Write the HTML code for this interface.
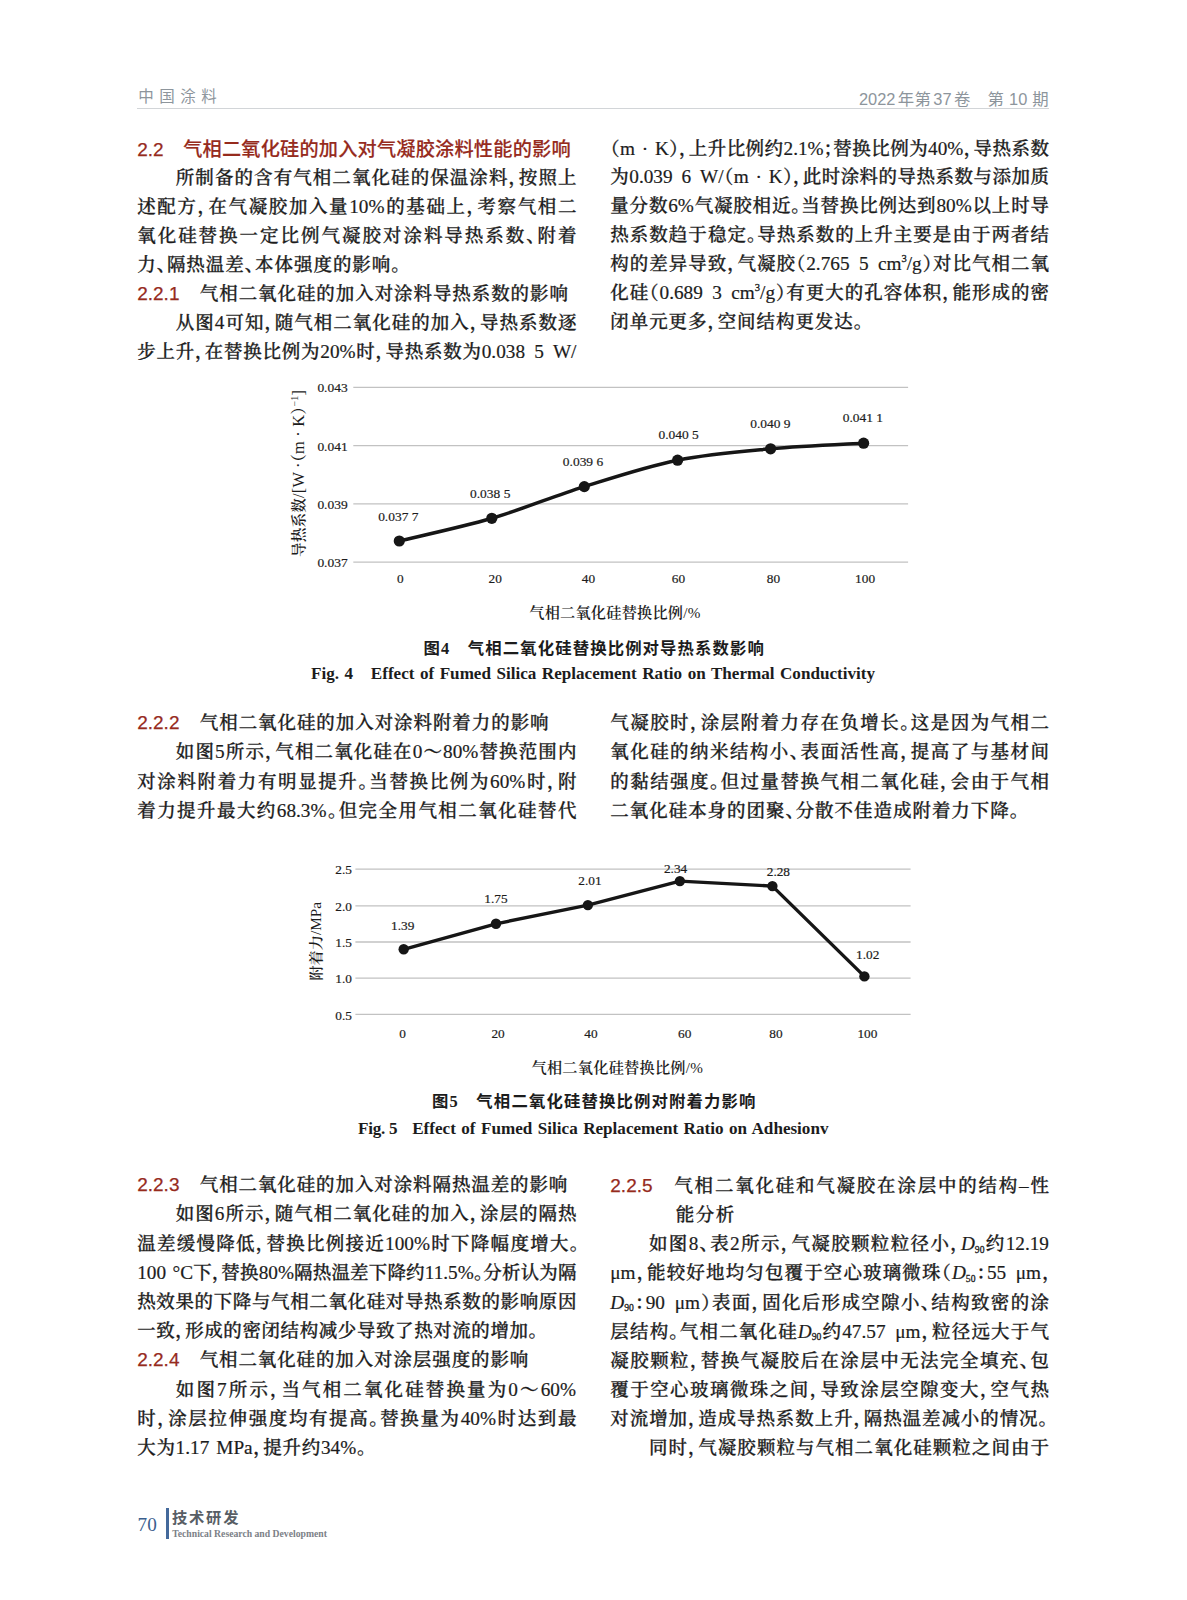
<!DOCTYPE html>
<html lang="zh-CN"><head><meta charset="utf-8"><title>中国涂料 2022年第37卷 第10期</title>
<style>
html,body{margin:0;padding:0;background:#fff;}
body{width:1187px;height:1600px;position:relative;overflow:hidden;
 font-family:"Liberation Serif","Noto Serif CJK SC",serif;color:#1c1c1c;}
.ln{position:absolute;height:30px;line-height:30px;font-size:18.5px;overflow:visible;
 font-feature-settings:"halt" 1;font-weight:500;-webkit-text-stroke:0.3px #1c1c1c;white-space:normal;text-align:justify;text-align-last:justify;}
.l{font-size:19.25px;font-weight:400;-webkit-text-stroke:0.2px #1c1c1c;word-spacing:1.5px;}
.w{word-spacing:3.6px;}
.rn{font-family:"Liberation Sans",sans-serif;color:#962b1d;font-size:19px;font-weight:400;-webkit-text-stroke:0.25px #962b1d;}
.h2{font-family:"Liberation Sans","Noto Sans CJK SC",sans-serif;font-weight:500;color:#962b1d;font-size:19.2px;position:relative;top:1.2px;-webkit-text-stroke:0.15px #962b1d;}
.rn.b{font-weight:400;}
.gap{display:inline-block;width:20px;}
sup{font-size:10.5px;font-weight:400;vertical-align:baseline;position:relative;top:-8.6px;line-height:0;}
sub{font-size:9.6px;font-weight:400;vertical-align:baseline;position:relative;top:2.6px;line-height:0;}
.hd{position:absolute;font-family:"Liberation Sans","Noto Sans CJK SC",sans-serif;color:#8d959c;font-size:16px;line-height:20px;height:20px;white-space:nowrap;}
.hs{display:inline-block;width:2px;}
.rule{position:absolute;left:137px;top:107.7px;width:912px;height:1.3px;background:#d2d5d8;}
svg{position:absolute;left:0;top:0;}
svg text{fill:#1c1c1c;}
.ax{font-family:"Liberation Serif",serif;font-size:13.3px;stroke:#1c1c1c;stroke-width:0.2px;}
.ay{font-family:"Liberation Serif","Noto Serif CJK SC",serif;font-size:14px;font-weight:600;font-feature-settings:"halt" 1;}
.axc{font-family:"Liberation Serif","Noto Serif CJK SC",serif;font-size:15.2px;font-weight:600;}
.capc{position:absolute;height:22px;font-family:"Liberation Serif","Noto Sans CJK SC",sans-serif;font-weight:700;font-size:16.4px;line-height:22px;text-align:justify;text-align-last:justify;}
.cape{position:absolute;height:22px;font-family:"Liberation Serif",serif;font-weight:700;font-size:17.1px;line-height:22px;text-align:justify;text-align-last:justify;}
.pg{position:absolute;left:137.6px;top:1511.6px;font-family:"Liberation Serif",serif;font-size:19.2px;line-height:26px;color:#3b5e8d;}
.bar{position:absolute;left:166.1px;top:1508px;width:2.5px;height:30.6px;background:#44699b;}
.ft1{position:absolute;left:171.9px;top:1506.8px;width:66.6px;font-family:"Liberation Sans","Noto Sans CJK SC",sans-serif;font-weight:700;font-size:15.3px;line-height:22px;color:#585e65;text-align:justify;text-align-last:justify;}
.ft2{position:absolute;left:172.2px;top:1526.6px;font-family:"Liberation Serif",serif;font-weight:700;font-size:9.7px;line-height:14px;color:#7c8187;white-space:nowrap;}
</style></head><body>
<div class="hd" style="left:138.2px;top:87.4px;font-size:15.5px;letter-spacing:5.5px;">中国涂料</div>
<div class="hd" style="left:859px;top:88.6px;width:189.6px;font-size:16.4px;text-align:justify;text-align-last:justify;white-space:normal;">2022<span class="hs"></span>年第<span class="hs"></span>37<span class="hs"></span>卷　第 10 期</div>
<div class="rule"></div>
<div class="ln" style="left:137.2px;top:133.4px;width:433.4px;"><span class="h2"><span class="rn b">2.2</span>　气相二氧化硅的加入对气凝胶涂料性能的影响</span></div>
<div class="ln" style="left:175.8px;top:162.7px;width:400.7px;">所制备的含有气相二氧化硅的保温涂料，按照上</div>
<div class="ln" style="left:137.2px;top:191.7px;width:439.3px;">述配方，在气凝胶加入量<span class="l">10%</span>的基础上，考察气相二</div>
<div class="ln" style="left:137.2px;top:220.8px;width:439.3px;">氧化硅替换一定比例气凝胶对涂料导热系数、附着</div>
<div class="ln" style="left:137.2px;top:249.8px;width:263.4px;">力、隔热温差、本体强度的影响。</div>
<div class="ln" style="left:137.2px;top:278.9px;width:430.8px;"><span class="rn">2.2.1</span>　气相二氧化硅的加入对涂料导热系数的影响</div>
<div class="ln" style="left:175.8px;top:307.9px;width:400.7px;">从图<span class="l">4</span>可知，随气相二氧化硅的加入，导热系数逐</div>
<div class="ln" style="left:137.2px;top:336.9px;width:439.3px;">步上升，在替换比例为<span class="l">20%</span>时，导热系数为<span class="l">0.038<span class="w"> </span>5<span class="w"> </span>W/</span></div>
<div class="ln" style="left:610.3px;top:133.8px;width:438.7px;">（<span class="l">m · K</span>），上升比例约<span class="l">2.1%</span>；替换比例为<span class="l">40%</span>，导热系数</div>
<div class="ln" style="left:610.3px;top:162.4px;width:438.7px;">为<span class="l">0.039<span class="w"> </span>6<span class="w"> </span>W/</span>（<span class="l">m · K</span>），此时涂料的导热系数与添加质</div>
<div class="ln" style="left:610.3px;top:191.4px;width:438.7px;">量分数<span class="l">6%</span>气凝胶相近。当替换比例达到<span class="l">80%</span>以上时导</div>
<div class="ln" style="left:610.3px;top:220.4px;width:438.7px;">热系数趋于稳定。导热系数的上升主要是由于两者结</div>
<div class="ln" style="left:610.3px;top:249.4px;width:438.7px;">构的差异导致，气凝胶（<span class="l">2.765<span class="w"> </span>5<span class="w"> </span>cm</span><sup>3</sup><span class="l">/g</span>）对比气相二氧</div>
<div class="ln" style="left:610.3px;top:278.4px;width:438.7px;">化硅（<span class="l">0.689<span class="w"> </span>3<span class="w"> </span>cm</span><sup>3</sup><span class="l">/g</span>）有更大的孔容体积，能形成的密</div>
<div class="ln" style="left:610.3px;top:307.4px;width:252.7px;">闭单元更多，空间结构更发达。</div>
<div class="ln" style="left:137.2px;top:708.2px;width:411.4px;"><span class="rn">2.2.2</span>　气相二氧化硅的加入对涂料附着力的影响</div>
<div class="ln" style="left:175.8px;top:737.4px;width:400.7px;">如图<span class="l">5</span>所示，气相二氧化硅在<span class="l">0</span>～<span class="l">80%</span>替换范围内</div>
<div class="ln" style="left:137.2px;top:766.6px;width:439.3px;">对涂料附着力有明显提升。当替换比例为<span class="l">60%</span>时，附</div>
<div class="ln" style="left:137.2px;top:795.7px;width:439.3px;">着力提升最大约<span class="l">68.3%</span>。但完全用气相二氧化硅替代</div>
<div class="ln" style="left:610.3px;top:708.2px;width:438.7px;">气凝胶时，涂层附着力存在负增长。这是因为气相二</div>
<div class="ln" style="left:610.3px;top:737.4px;width:438.7px;">氧化硅的纳米结构小、表面活性高，提高了与基材间</div>
<div class="ln" style="left:610.3px;top:766.6px;width:438.7px;">的黏结强度。但过量替换气相二氧化硅，会由于气相</div>
<div class="ln" style="left:610.3px;top:795.7px;width:408.7px;">二氧化硅本身的团聚、分散不佳造成附着力下降。</div>
<div class="ln" style="left:137.2px;top:1170.1px;width:430.2px;"><span class="rn">2.2.3</span>　气相二氧化硅的加入对涂料隔热温差的影响</div>
<div class="ln" style="left:175.8px;top:1199.3px;width:400.7px;">如图<span class="l">6</span>所示，随气相二氧化硅的加入，涂层的隔热</div>
<div class="ln" style="left:137.2px;top:1228.5px;width:441.8px;">温差缓慢降低，替换比例接近<span class="l">100%</span>时下降幅度增大。</div>
<div class="ln" style="left:137.2px;top:1257.7px;width:439.3px;"><span class="l">100 °C</span>下，替换<span class="l">80%</span>隔热温差下降约<span class="l">11.5%</span>。分析认为隔</div>
<div class="ln" style="left:137.2px;top:1286.9px;width:439.3px;">热效果的下降与气相二氧化硅对导热系数的影响原因</div>
<div class="ln" style="left:137.2px;top:1316.1px;width:400.7px;">一致，形成的密闭结构减少导致了热对流的增加。</div>
<div class="ln" style="left:137.2px;top:1345.3px;width:391.1px;"><span class="rn">2.2.4</span>　气相二氧化硅的加入对涂层强度的影响</div>
<div class="ln" style="left:175.8px;top:1374.5px;width:400.2px;">如图<span class="l">7</span>所示，当气相二氧化硅替换量为<span class="l">0</span>～<span class="l">60%</span></div>
<div class="ln" style="left:137.2px;top:1403.7px;width:439.3px;">时，涂层拉伸强度均有提高。替换量为<span class="l">40%</span>时达到最</div>
<div class="ln" style="left:137.2px;top:1432.9px;width:229.0px;">大为<span class="l">1.17 MPa</span>，提升约<span class="l">34%</span>。</div>
<div class="ln" style="left:610.3px;top:1171.1px;width:438.7px;"><span class="rn">2.2.5</span><span class="gap"></span>气相二氧化硅和气凝胶在涂层中的结构<span class="l">–</span>性</div>
<div class="ln" style="left:675.8px;top:1200.2px;width:58.4px;">能分析</div>
<div class="ln" style="left:648.9px;top:1229.3px;width:400.1px;">如图<span class="l">8</span>、表<span class="l">2</span>所示，气凝胶颗粒粒径小，<i><span class="l">D</span></i><sub>90</sub>约<span class="l">12.19</span></div>
<div class="ln" style="left:610.3px;top:1258.4px;width:441.2px;"><span class="l">μm</span>，能较好地均匀包覆于空心玻璃微珠（<i><span class="l">D</span></i><sub>50</sub>：<span class="l">55<span class="w"> </span>μm</span>，</div>
<div class="ln" style="left:610.3px;top:1287.5px;width:438.7px;"><i><span class="l">D</span></i><sub>90</sub>：<span class="l">90<span class="w"> </span>μm</span>）表面，固化后形成空隙小、结构致密的涂</div>
<div class="ln" style="left:610.3px;top:1316.6px;width:438.7px;">层结构。气相二氧化硅<i><span class="l">D</span></i><sub>90</sub>约<span class="l">47.57<span class="w"> </span>μm</span>，粒径远大于气</div>
<div class="ln" style="left:610.3px;top:1345.6px;width:438.7px;">凝胶颗粒，替换气凝胶后在涂层中无法完全填充、包</div>
<div class="ln" style="left:610.3px;top:1374.7px;width:438.7px;">覆于空心玻璃微珠之间，导致涂层空隙变大，空气热</div>
<div class="ln" style="left:610.3px;top:1403.8px;width:437.5px;">对流增加，造成导热系数上升，隔热温差减小的情况。</div>
<div class="ln" style="left:648.9px;top:1432.9px;width:400.1px;">同时，气凝胶颗粒与气相二氧化硅颗粒之间由于</div>

<svg width="1187" height="1600" viewBox="0 0 1187 1600">
<line x1="353.3" y1="387.3" x2="908.1" y2="387.3" stroke="#c2c2c2" stroke-width="1.3"/>
<line x1="353.3" y1="445.6" x2="908.1" y2="445.6" stroke="#c2c2c2" stroke-width="1.3"/>
<line x1="353.3" y1="503.9" x2="908.1" y2="503.9" stroke="#c2c2c2" stroke-width="1.3"/>
<line x1="353.3" y1="562.2" x2="908.1" y2="562.2" stroke="#c2c2c2" stroke-width="1.3"/>
<text x="347.7" y="392.3" text-anchor="end" class="ax" textLength="30.3" lengthAdjust="spacingAndGlyphs">0.043</text>
<text x="347.7" y="450.6" text-anchor="end" class="ax" textLength="30.3" lengthAdjust="spacingAndGlyphs">0.041</text>
<text x="347.7" y="508.9" text-anchor="end" class="ax" textLength="30.3" lengthAdjust="spacingAndGlyphs">0.039</text>
<text x="347.7" y="567.2" text-anchor="end" class="ax" textLength="30.3" lengthAdjust="spacingAndGlyphs">0.037</text>
<text x="400.3" y="582.7" text-anchor="middle" class="ax">0</text>
<text x="495.2" y="582.7" text-anchor="middle" class="ax">20</text>
<text x="588.5" y="582.7" text-anchor="middle" class="ax">40</text>
<text x="678.5" y="582.7" text-anchor="middle" class="ax">60</text>
<text x="773.5" y="582.7" text-anchor="middle" class="ax">80</text>
<text x="865.1" y="582.7" text-anchor="middle" class="ax">100</text>
<path d="M399.3,541.0 C414.7,537.2 461.0,527.4 491.8,518.3 C522.6,509.2 553.3,496.3 584.3,486.6 C615.3,476.9 646.5,466.5 677.6,460.2 C708.7,453.9 739.6,451.6 770.6,448.8 C801.6,446.0 848.1,444.1 863.6,443.2" fill="none" stroke="#161616" stroke-width="3.5" stroke-linecap="round"/>
<circle cx="399.3" cy="541.0" r="5.6" fill="#161616"/>
<circle cx="491.8" cy="518.3" r="5.6" fill="#161616"/>
<circle cx="584.3" cy="486.6" r="5.6" fill="#161616"/>
<circle cx="677.6" cy="460.2" r="5.6" fill="#161616"/>
<circle cx="770.6" cy="448.8" r="5.6" fill="#161616"/>
<circle cx="863.6" cy="443.2" r="5.6" fill="#161616"/>
<text x="398.3" y="521.0" text-anchor="middle" class="ax" textLength="40.3" lengthAdjust="spacingAndGlyphs">0.037 7</text>
<text x="490.2" y="497.6" text-anchor="middle" class="ax" textLength="40.3" lengthAdjust="spacingAndGlyphs">0.038 5</text>
<text x="583.0" y="466.0" text-anchor="middle" class="ax" textLength="40.3" lengthAdjust="spacingAndGlyphs">0.039 6</text>
<text x="678.6" y="439.4" text-anchor="middle" class="ax" textLength="40.3" lengthAdjust="spacingAndGlyphs">0.040 5</text>
<text x="770.4" y="428.1" text-anchor="middle" class="ax" textLength="40.3" lengthAdjust="spacingAndGlyphs">0.040 9</text>
<text x="862.9" y="421.8" text-anchor="middle" class="ax" textLength="40.3" lengthAdjust="spacingAndGlyphs">0.041 1</text>
<text transform="translate(303.8,557) rotate(-90)" class="ay" textLength="167" lengthAdjust="spacing"><tspan font-size="14.6">导热系数</tspan><tspan font-size="16.4" font-weight="400">/[W ·</tspan><tspan font-size="16.4">（</tspan><tspan font-size="16.4" font-weight="400">m · K</tspan><tspan font-size="16.4">）</tspan><tspan dy="-6" font-size="10" font-weight="400">−1</tspan><tspan dy="6" font-size="16.4" font-weight="400">]</tspan></text>
<text x="529.3" y="618.3" class="axc" textLength="171" lengthAdjust="spacing">气相二氧化硅替换比例<tspan font-weight="400">/%</tspan></text>
<line x1="355.4" y1="869.2" x2="910.6" y2="869.2" stroke="#c2c2c2" stroke-width="1.3"/>
<line x1="355.4" y1="905.9" x2="910.6" y2="905.9" stroke="#c2c2c2" stroke-width="1.3"/>
<line x1="355.4" y1="942.0" x2="910.6" y2="942.0" stroke="#c2c2c2" stroke-width="1.3"/>
<line x1="355.4" y1="978.1" x2="910.6" y2="978.1" stroke="#c2c2c2" stroke-width="1.3"/>
<line x1="355.4" y1="1014.3" x2="910.6" y2="1014.3" stroke="#c2c2c2" stroke-width="1.3"/>
<text x="351.9" y="874.4" text-anchor="end" class="ax">2.5</text>
<text x="351.9" y="911.1" text-anchor="end" class="ax">2.0</text>
<text x="351.9" y="947.2" text-anchor="end" class="ax">1.5</text>
<text x="351.9" y="983.3" text-anchor="end" class="ax">1.0</text>
<text x="351.9" y="1019.5" text-anchor="end" class="ax">0.5</text>
<text x="402.7" y="1037.5" text-anchor="middle" class="ax">0</text>
<text x="498.1" y="1037.5" text-anchor="middle" class="ax">20</text>
<text x="591.0" y="1037.5" text-anchor="middle" class="ax">40</text>
<text x="684.7" y="1037.5" text-anchor="middle" class="ax">60</text>
<text x="776.0" y="1037.5" text-anchor="middle" class="ax">80</text>
<text x="867.4" y="1037.5" text-anchor="middle" class="ax">100</text>
<path d="M403.7,949.3 L496.0,923.8 L587.9,905.1 L679.9,881.1 L772.4,886.1 L864.4,976.4" fill="none" stroke="#161616" stroke-width="3.4" stroke-linejoin="round" stroke-linecap="round"/>
<circle cx="403.7" cy="949.3" r="5.2" fill="#161616"/>
<circle cx="496.0" cy="923.8" r="5.2" fill="#161616"/>
<circle cx="587.9" cy="905.1" r="5.2" fill="#161616"/>
<circle cx="679.9" cy="881.1" r="5.2" fill="#161616"/>
<circle cx="772.4" cy="886.1" r="5.2" fill="#161616"/>
<circle cx="864.4" cy="976.4" r="5.2" fill="#161616"/>
<text x="402.7" y="930.4" text-anchor="middle" class="ax">1.39</text>
<text x="496.0" y="902.6" text-anchor="middle" class="ax">1.75</text>
<text x="590.0" y="885.4" text-anchor="middle" class="ax">2.01</text>
<text x="675.6" y="873.2" text-anchor="middle" class="ax">2.34</text>
<text x="778.4" y="875.8" text-anchor="middle" class="ax">2.28</text>
<text x="867.7" y="958.7" text-anchor="middle" class="ax">1.02</text>
<text transform="translate(320.6,980.8) rotate(-90)" class="ay" font-size="14.2" textLength="78.8" lengthAdjust="spacingAndGlyphs">附着力<tspan font-weight="400">/MPa</tspan></text>
<text x="531.5" y="1073.3" class="axc" textLength="171.4" lengthAdjust="spacing">气相二氧化硅替换比例<tspan font-weight="400">/%</tspan></text>
</svg>
<div class="capc" style="left:423.4px;top:637.5px;width:340.6px;">图4　气相二氧化硅替换比例对导热系数影响</div>
<div class="cape" style="left:311.1px;top:663.3px;white-space:nowrap;word-spacing:1.2px;text-align-last:left;">Fig. 4</div>
<div class="cape" style="left:370.8px;top:663.3px;width:504.2px;">Effect of Fumed Silica Replacement Ratio on Thermal Conductivity</div>
<div class="capc" style="left:432px;top:1091.3px;width:323.5px;">图5　气相二氧化硅替换比例对附着力影响</div>
<div class="cape" style="left:358.1px;top:1117.8px;white-space:nowrap;letter-spacing:-0.3px;text-align-last:left;">Fig. 5</div>
<div class="cape" style="left:412.2px;top:1117.8px;width:416.3px;">Effect of Fumed Silica Replacement Ratio on Adhesionv</div>
<div class="pg">70</div><div class="bar"></div>
<div class="ft1">技术研发</div>
<div class="ft2">Technical Research and Development</div>
</body></html>
